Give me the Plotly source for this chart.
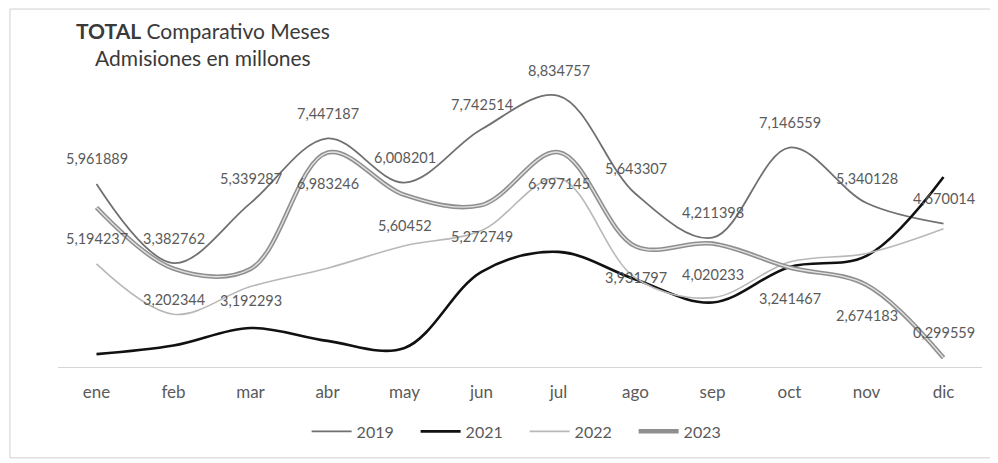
import plotly.graph_objects as go

months = ["ene", "feb", "mar", "abr", "may", "jun", "jul", "ago", "sep", "oct", "nov", "dic"]
v2019 = [5.961889, 3.382762, 5.339287, 7.447187, 6.008201, 7.742514, 8.834757, 5.643307, 4.211398, 7.146559, 5.340128, 4.670014]
v2021 = [0.42, 0.70, 1.27, 0.85, 0.62, 3.10, 3.75, 2.85, 2.10, 3.26, 3.62, 6.19]
v2022 = [3.36, 1.72, 2.62, 3.22, 3.95, 4.45, 6.15, 2.90, 2.26, 3.42, 3.70, 4.50]
v2023 = [5.194237, 3.202344, 3.192293, 6.983246, 5.60452, 5.272749, 6.997145, 3.931797, 4.020233, 3.241467, 2.674183, 0.299559]

FONT = "Lato"
LABEL_COLOR = "#5a5a5a"

fig = go.Figure()
fig.add_trace(go.Scatter(x=months, y=v2019, mode="lines", name="2019",
                         line=dict(color="#707070", width=1.8, shape="spline")))
fig.add_trace(go.Scatter(x=months, y=v2021, mode="lines", name="2021",
                         line=dict(color="#111111", width=2.6, shape="spline")))
fig.add_trace(go.Scatter(x=months, y=v2022, mode="lines", name="2022",
                         line=dict(color="#b8b8b8", width=1.6, shape="spline")))
fig.add_trace(go.Scatter(x=months, y=v2023, mode="lines", name="2023",
                         line=dict(color="#8f8f8f", width=4.5, shape="spline")))
fig.add_trace(go.Scatter(x=months, y=v2023, mode="lines", name="2023", showlegend=False,
                         hoverinfo="skip",
                         line=dict(color="#e2e2e2", width=1.4, shape="spline")))


def fmt(v):
    return repr(v).replace(".", ",")


annotations = []
for m, v in zip(months, v2019):
    annotations.append(dict(x=m, y=v, xref="x", yref="y", text=fmt(v), showarrow=False,
                            yshift=25, font=dict(family=FONT, size=14.5, color=LABEL_COLOR)))
shift_2023 = [-31] * 11 + [25]
for m, v, s in zip(months, v2023, shift_2023):
    annotations.append(dict(x=m, y=v, xref="x", yref="y", text=fmt(v), showarrow=False,
                            yshift=s, font=dict(family=FONT, size=14.5, color=LABEL_COLOR)))

annotations.append(dict(xref="paper", yref="paper", x=0.157, y=1.052, xanchor="center",
                        yanchor="middle",
                        text="<b>TOTAL</b> Comparativo Meses<br>Admisiones en millones",
                        showarrow=False, align="center",
                        font=dict(family=FONT, size=21, color="#3a3a3a")))

fig.update_layout(
    width=990, height=455,
    margin=dict(l=50, r=16, t=52, b=96),
    paper_bgcolor="white", plot_bgcolor="white",
    font=dict(family=FONT, color=LABEL_COLOR),
    showlegend=True,
    legend=dict(orientation="h", x=0.505, xanchor="center", y=-0.21, yanchor="middle",
                font=dict(family=FONT, size=16, color=LABEL_COLOR), itemwidth=40,
                entrywidth=54, entrywidthmode="pixels", traceorder="normal"),
    annotations=annotations,
    shapes=[dict(type="rect", xref="paper", yref="paper", x0=-0.052, x1=1.012,
                 y0=-0.296, y1=1.166, line=dict(color="#d0d0d0", width=1))],
)
fig.update_xaxes(type="category", range=[-0.5, 11.5], showgrid=False, showline=True,
                 linecolor="#d6d6d6", linewidth=1, ticks="outside", ticklen=10,
                 tickcolor="rgba(0,0,0,0)", tickfont=dict(family=FONT, size=17, color=LABEL_COLOR),
                 zeroline=False)
fig.update_yaxes(range=[0, 10], showgrid=False, showticklabels=False, zeroline=False,
                 showline=False)

fig.write_html("out.html")
